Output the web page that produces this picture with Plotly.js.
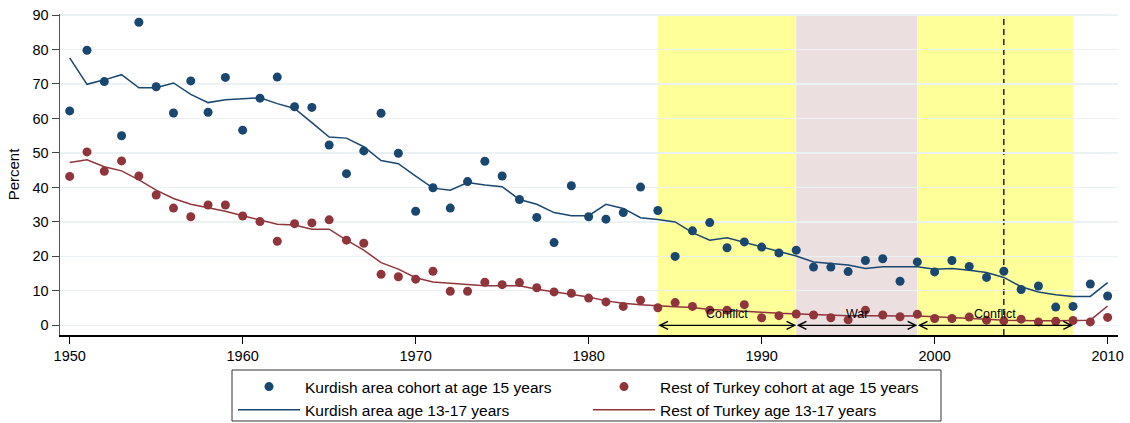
<!DOCTYPE html>
<html>
<head>
<meta charset="utf-8">
<script src="https://cdn.plot.ly/plotly-3.0.1.min.js"></script>
<style>html,body{margin:0;padding:0;background:#fff;}#chart{width:1130px;height:423px;}</style>
</head>
<body>
<div id="chart"></div>
<script>
// Years 1950..2010
const years = [1950,1951,1952,1953,1954,1955,1956,1957,1958,1959,
  1960,1961,1962,1963,1964,1965,1966,1967,1968,1969,
  1970,1971,1972,1973,1974,1975,1976,1977,1978,1979,
  1980,1981,1982,1983,1984,1985,1986,1987,1988,1989,
  1990,1991,1992,1993,1994,1995,1996,1997,1998,1999,
  2000,2001,2002,2003,2004,2005,2006,2007,2008,2009,2010];

const kurdishCohort15 = [62.2,79.8,70.7,55.0,87.9,69.2,61.6,70.9,61.8,71.9,
  56.6,65.9,72.0,63.4,63.2,52.3,44.0,50.6,61.5,49.9,
  33.1,39.9,34.0,41.7,47.6,43.3,36.5,31.3,24.0,40.5,
  31.5,30.8,32.7,40.1,33.3,20.0,27.4,29.8,22.5,24.2,
  22.7,21.0,21.8,16.9,16.9,15.6,18.8,19.3,12.8,18.4,
  15.5,18.8,17.1,13.9,15.7,10.4,11.4,5.3,5.5,12.0,8.5];

const kurdishAge1317 = [77.6,69.9,71.2,72.7,68.9,68.9,70.3,67.0,64.6,65.4,
  65.7,66.0,64.3,62.9,58.8,54.6,54.3,51.8,47.8,46.9,
  43.3,39.8,39.2,41.4,40.7,40.2,36.5,35.1,32.7,31.8,
  31.8,35.1,33.9,31.2,30.7,30.0,26.9,24.7,25.4,24.1,
  22.6,21.3,20.1,18.4,18.0,17.5,16.5,17.0,17.0,17.0,
  16.3,16.5,16.0,15.3,13.9,11.2,9.7,8.9,8.4,8.4,12.4];

const restCohort15 = [43.2,50.3,44.7,47.7,43.3,37.8,34.0,31.5,34.9,34.9,
  31.7,30.1,24.4,29.5,29.7,30.6,24.7,23.8,14.8,14.1,
  13.4,15.7,9.9,9.9,12.5,11.8,12.4,10.9,9.7,9.3,
  7.9,6.8,5.5,7.3,5.1,6.6,5.5,4.4,4.4,6.0,
  2.2,2.8,3.3,3.0,2.2,1.6,4.4,3.0,2.5,3.2,
  2.0,2.0,2.4,1.5,1.3,1.8,1.0,1.2,1.4,1.0,2.3];

const restAge1317 = [47.2,48.0,46.0,44.8,42.2,39.2,36.8,35.1,34.1,33.1,
  31.8,30.5,29.3,29.1,27.9,27.9,24.7,21.8,18.2,16.3,
  13.8,12.6,12.2,11.9,11.5,11.5,11.5,10.5,9.7,9.1,
  8.2,7.1,6.4,6.0,5.6,5.4,5.2,4.6,4.4,4.0,
  3.8,3.5,3.3,3.0,2.9,2.8,2.8,2.8,2.8,2.7,
  2.5,2.3,2.2,1.8,1.5,1.3,1.3,1.3,1.3,1.5,5.6];

// Shaded periods
const periodStart = [1984, 1992, 1999];
const periodEnd   = [1992, 1999, 2008];
const periodLabel = ['Conflict', 'War', 'Conflict'];
const periodColor = ['#ffff99', '#ebdfe0', '#ffff99'];
const markerYear = 2004;

const xTicks = [1950, 1960, 1970, 1980, 1990, 2000, 2010];
const yTicks = [0, 10, 20, 30, 40, 50, 60, 70, 80, 90];

const NAVY = '#1a476f';
const MAROON = '#90353b';
const FONT = 'Liberation Sans, Arial, Helvetica, sans-serif';
const yLo = -2.8, yHi = 90.3;

const traces = [
  {x: years, y: kurdishCohort15, type: 'scatter', mode: 'markers', name: 'Kurdish area cohort at age 15 years',
   marker: {color: NAVY, size: 9}, legend: 'legend'},
  {x: years, y: kurdishAge1317, type: 'scatter', mode: 'lines', name: 'Kurdish area age 13-17 years',
   line: {color: NAVY, width: 1.5}, legend: 'legend'},
  {x: years, y: restCohort15, type: 'scatter', mode: 'markers', name: 'Rest of Turkey cohort at age 15 years',
   marker: {color: MAROON, size: 9}, legend: 'legend2'},
  {x: years, y: restAge1317, type: 'scatter', mode: 'lines', name: 'Rest of Turkey age 13-17 years',
   line: {color: MAROON, width: 1.5}, legend: 'legend2'}
];

const shapes = [];
const annotations = [];
for (let i = 0; i < periodStart.length; i++) {
  shapes.push({type: 'rect', xref: 'x', yref: 'y', x0: periodStart[i], x1: periodEnd[i], y0: yLo, y1: yHi,
    fillcolor: periodColor[i], line: {width: 0}, layer: 'below'});
  annotations.push({xref: 'x', yref: 'y', axref: 'x', ayref: 'y', x: periodEnd[i], y: 0, ax: periodStart[i], ay: 0,
    text: ' ', showarrow: true, arrowside: 'end+start', arrowhead: 5, arrowsize: 1.2, arrowwidth: 1.3,
    arrowcolor: '#000', font: {size: 1}, borderpad: 0, standoff: 0, startstandoff: 0});
  annotations.push({xref: 'x', yref: 'y', x: (periodStart[i] + periodEnd[i]) / 2, y: 3.2, text: periodLabel[i],
    showarrow: false, font: {family: FONT, size: 12.5, color: '#000'}});
}
shapes.push({type: 'line', xref: 'x', yref: 'y', x0: markerYear, x1: markerYear, y0: yLo, y1: yHi,
  line: {color: '#000', width: 1.3, dash: '6px,4px'}, layer: 'below'});
// legend frame
const L = 60, T = 14, PW = 1058, PH = 321;
const px2x = p => (p - L) / PW;
const py2y = q => (T + PH - q) / PH;
shapes.push({type: 'rect', xref: 'paper', yref: 'paper', x0: px2x(232), x1: px2x(941), y0: py2y(421), y1: py2y(370),
  line: {color: '#333', width: 1}, fillcolor: 'rgba(0,0,0,0)', layer: 'above'});

const legendBase = {xanchor: 'left', yanchor: 'top', orientation: 'v', bgcolor: 'rgba(0,0,0,0)', borderwidth: 0,
  font: {family: FONT, size: 15.5, color: '#000'}, itemwidth: 62, tracegroupgap: 0};

const layout = {
  width: 1130, height: 423,
  margin: {l: L, r: 12, t: T, b: 88, autoexpand: false},
  paper_bgcolor: '#fff', plot_bgcolor: '#fff',
  font: {family: FONT, size: 14.5, color: '#000'},
  showlegend: true,
  legend: Object.assign({}, legendBase, {x: px2x(233), y: py2y(370)}),
  legend2: Object.assign({}, legendBase, {x: px2x(588), y: py2y(370)}),
  xaxis: {range: [1949.44, 2010.6], tickvals: xTicks, ticks: 'outside', ticklen: 7, tickcolor: '#000', tickwidth: 1,
    showgrid: false, zeroline: false, showline: true, linecolor: '#000', linewidth: 1.5,
    tickfont: {family: FONT, size: 14.5, color: '#000'}},
  yaxis: {range: [yLo, yHi], tickvals: yTicks, ticks: 'outside', ticklen: 7, tickcolor: '#444', tickwidth: 1,
    showgrid: true, gridcolor: '#eaf2f3', gridwidth: 1.2, zeroline: false, showline: true, linecolor: '#555', linewidth: 1.5,
    tickfont: {family: FONT, size: 14.5, color: '#000'},
    title: {text: 'Percent', font: {family: FONT, size: 15, color: '#000'}, standoff: 9}},
  shapes: shapes,
  annotations: annotations
};

Plotly.newPlot('chart', traces, layout, {displayModeBar: false, staticPlot: true});
</script>
</body>
</html>
